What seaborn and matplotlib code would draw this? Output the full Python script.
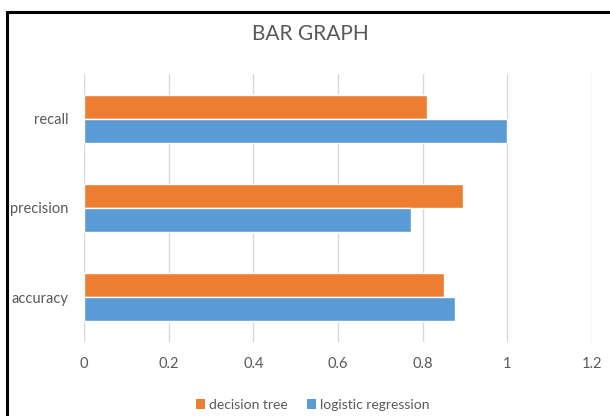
import matplotlib
matplotlib.use("Agg")
import matplotlib.pyplot as plt
from matplotlib.lines import Line2D
from matplotlib.patches import Patch
import pandas as pd
import seaborn as sns

# Scores per metric for each model
metrics = ["recall", "precision", "accuracy"]
models = ["decision tree", "logistic regression"]
decision_tree = [0.81, 0.895, 0.85]
logistic_regression = [1.0, 0.772, 0.876]
x_ticks = [0, 0.2, 0.4, 0.6, 0.8, 1, 1.2]
x_tick_labels = ["0", "0.2", "0.4", "0.6", "0.8", "1", "1.2"]

colors = {"decision tree": "#ED7D31", "logistic regression": "#5B9BD5"}
text_color = "#595959"

df = pd.DataFrame({
    "metric": metrics * 2,
    "model": [models[0]] * len(metrics) + [models[1]] * len(metrics),
    "score": decision_tree + logistic_regression,
})

sns.set_theme(style="white")
plt.rcParams["font.family"] = ["Lato", "DejaVu Sans"]

fig = plt.figure(figsize=(6.10, 4.16), dpi=100)
ax = fig.add_axes([0.1377, 0.179, 0.8328, 0.642])

sns.barplot(data=df, y="metric", x="score", hue="model", order=metrics,
            hue_order=models, palette=colors, orient="h", width=0.53,
            saturation=1, ax=ax, legend=False, errorbar=None, zorder=3)

ax.set_xlim(0, 1.2)
ax.set_xticks(x_ticks)
ax.set_xticklabels(x_tick_labels)
ax.set_xlabel("")
ax.set_ylabel("")
ax.grid(axis="x", color="#D9D9D9", linewidth=1, zorder=0)
ax.grid(axis="y", visible=False)
for s in ax.spines.values():
    s.set_visible(False)
ax.tick_params(axis="both", length=0, colors=text_color, labelsize=10.5)
ax.tick_params(axis="x", pad=11)
ax.tick_params(axis="y", pad=11)

fig.text(0.508, 0.919, "BAR GRAPH", ha="center", va="center",
         fontsize=15, color=text_color)

handles = [Patch(facecolor=colors[m], edgecolor="none") for m in models]
fig.legend(handles, models, loc="center", bbox_to_anchor=(0.513, 0.026),
           ncol=2, frameon=False, fontsize=10, handlelength=0.65,
           handleheight=0.75, handletextpad=0.3, columnspacing=1.4,
           labelcolor=text_color)

# Outer chart frame (top and left edges)
fig.add_artist(Line2D([7 / 610, 1.0], [1 - 12 / 416, 1 - 12 / 416],
                      transform=fig.transFigure, color="black", linewidth=2.2))
fig.add_artist(Line2D([7 / 610, 7 / 610], [0.0, 1 - 12 / 416],
                      transform=fig.transFigure, color="black", linewidth=2.2))

fig.savefig("out.png", dpi=100)
